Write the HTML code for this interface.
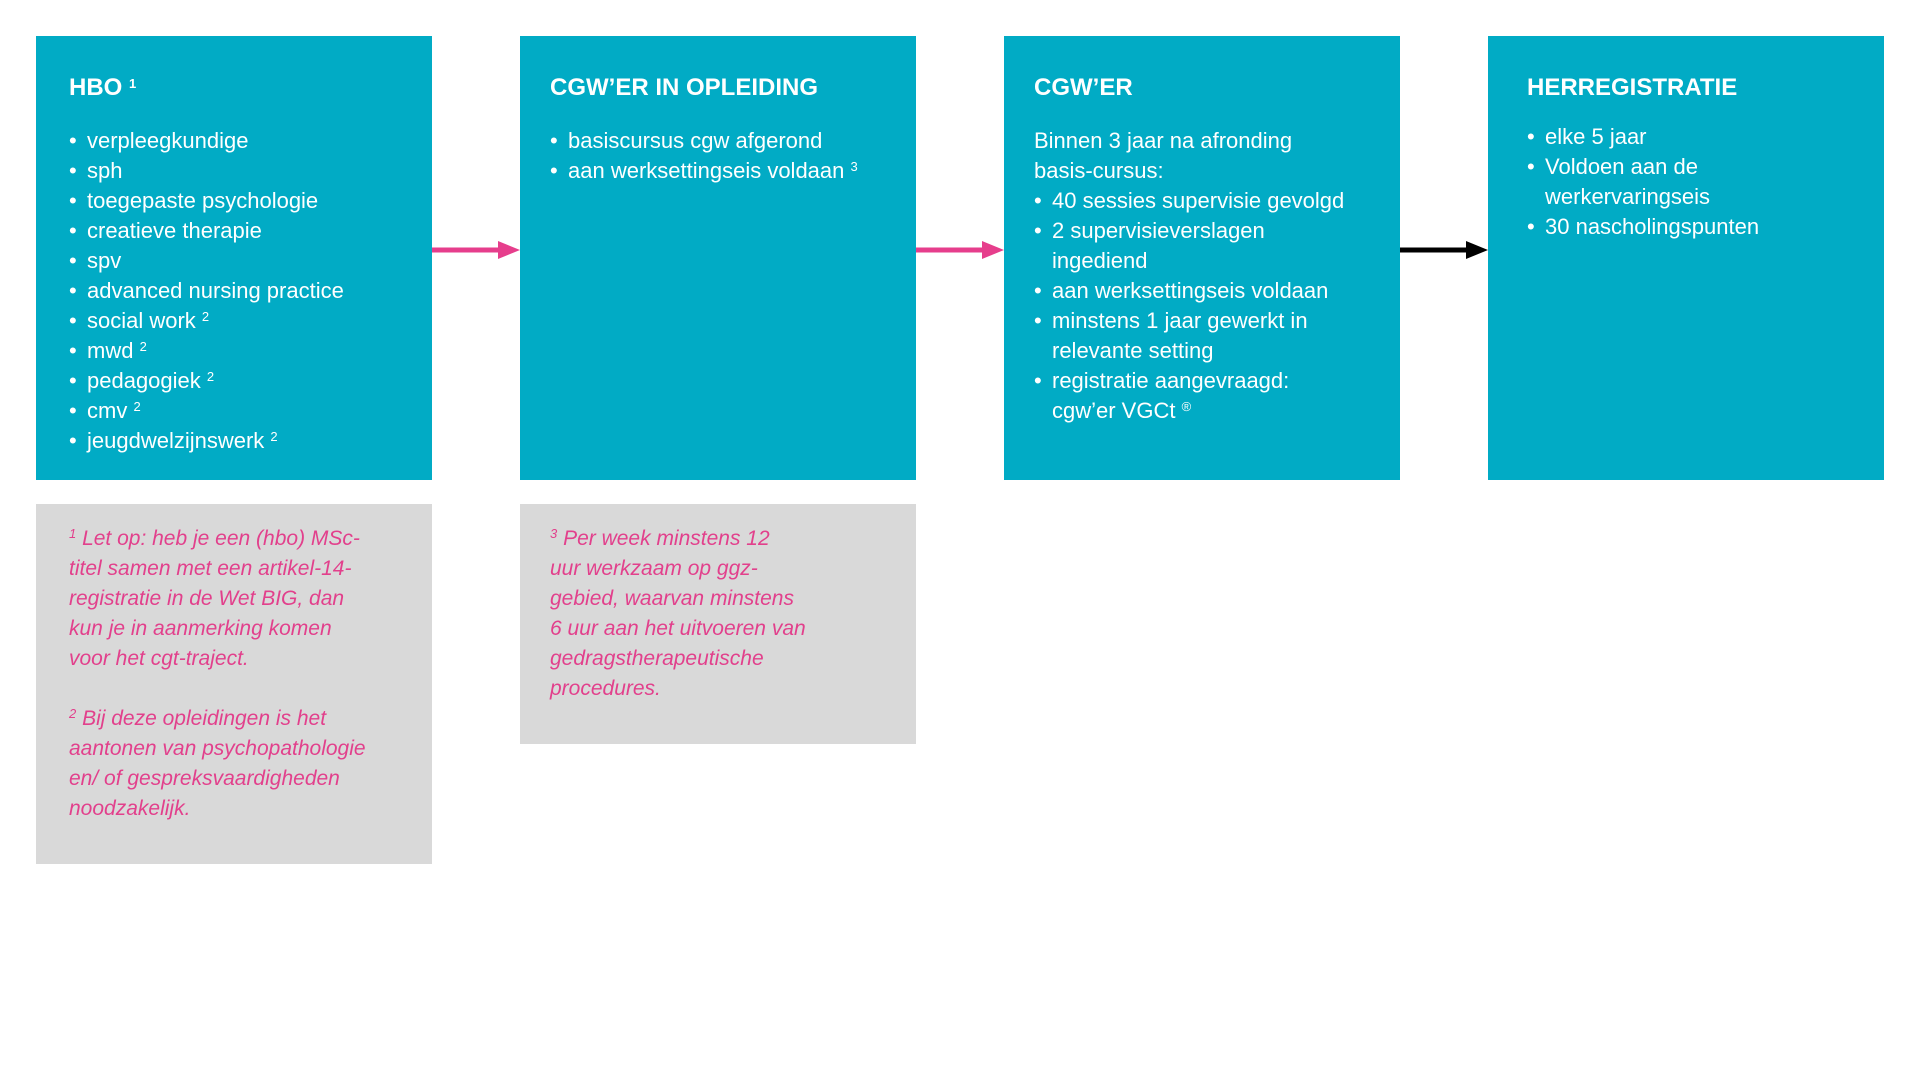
<!DOCTYPE html>
<html><head><meta charset="utf-8"><style>
body{margin:0;width:1920px;height:1080px;background:#fff;position:relative;overflow:hidden;font-family:"Liberation Sans",sans-serif}
.box{position:absolute;background:#01abc5;color:#fff}
.g{position:absolute;background:#d9d9d9;color:#e2408c;font-style:italic;font-size:21px;line-height:30px}
.t{position:absolute;font-weight:bold;font-size:24px;line-height:30px;top:73px}
.l{position:absolute;font-size:22px;line-height:30px;top:126px;margin:0;padding:0;list-style:none}
.l li{position:relative;padding-left:18px}
.l li.n{padding-left:0}
.l li.b:before{content:"•";position:absolute;left:0}
sup{font-size:13px;vertical-align:7px;line-height:0}
</style></head><body>
<div class="box" style="left:36px;top:36px;width:396px;height:444px">
<div class="t" style="left:33px;top:37px">HBO <sup>1</sup></div>
<ul class="l" style="left:33px;top:90px">
<li class="b">verpleegkundige</li><li class="b">sph</li><li class="b">toegepaste psychologie</li><li class="b">creatieve therapie</li><li class="b">spv</li><li class="b">advanced nursing practice</li><li class="b">social work <sup>2</sup></li><li class="b">mwd <sup>2</sup></li><li class="b">pedagogiek <sup>2</sup></li><li class="b">cmv <sup>2</sup></li><li class="b">jeugdwelzijnswerk <sup>2</sup></li>
</ul></div>
<div class="box" style="left:520px;top:36px;width:396px;height:444px">
<div class="t" style="left:30px;top:37px">CGW’ER IN OPLEIDING</div>
<ul class="l" style="left:30px;top:90px">
<li class="b">basiscursus cgw afgerond</li><li class="b">aan werksettingseis voldaan <sup>3</sup></li>
</ul></div>
<div class="box" style="left:1004px;top:36px;width:396px;height:444px">
<div class="t" style="left:30px;top:37px">CGW’ER</div>
<ul class="l" style="left:30px;top:90px">
<li class="n">Binnen 3 jaar na afronding</li><li class="n">basis-cursus:</li>
<li class="b">40 sessies supervisie gevolgd</li><li class="b">2 supervisieverslagen<br>ingediend</li><li class="b">aan werksettingseis voldaan</li><li class="b">minstens 1 jaar gewerkt in<br>relevante setting</li><li class="b">registratie aangevraagd:<br>cgw’er VGCt <sup>®</sup></li>
</ul></div>
<div class="box" style="left:1488px;top:36px;width:396px;height:444px">
<div class="t" style="left:39px;top:37px">HERREGISTRATIE</div>
<ul class="l" style="left:39px;top:86px">
<li class="b">elke 5 jaar</li><li class="b">Voldoen aan de<br>werkervaringseis</li><li class="b">30 nascholingspunten</li>
</ul></div>
<div class="g" style="left:36px;top:504px;width:396px;height:360px">
<div style="position:absolute;left:33px;top:20px;width:360px"><sup>1</sup> Let op: heb je een (hbo) MSc-<br>titel samen met een artikel-14-<br>registratie in de Wet BIG, dan<br>kun je in aanmerking komen<br>voor het cgt-traject.<br><br><sup>2</sup> Bij deze opleidingen is het<br>aantonen van psychopathologie<br>en/ of gespreksvaardigheden<br>noodzakelijk.</div></div>
<div class="g" style="left:520px;top:504px;width:396px;height:240px">
<div style="position:absolute;left:30px;top:20px;width:360px"><sup>3</sup> Per week minstens 12<br>uur werkzaam op ggz-<br>gebied, waarvan minstens<br>6 uur aan het uitvoeren van<br>gedragstherapeutische<br>procedures.</div></div>
<svg style="position:absolute;left:0;top:0" width="1920" height="1080">
<line x1="432" y1="250" x2="502" y2="250" stroke="#e63e8c" stroke-width="5"/><polygon points="498,241 520,250 498,259" fill="#e63e8c"/>
<line x1="916" y1="250" x2="986" y2="250" stroke="#e63e8c" stroke-width="5"/><polygon points="982,241 1004,250 982,259" fill="#e63e8c"/>
<line x1="1400" y1="250" x2="1470" y2="250" stroke="#000" stroke-width="5"/><polygon points="1466,241 1488,250 1466,259" fill="#000"/>
</svg>
</body></html>
